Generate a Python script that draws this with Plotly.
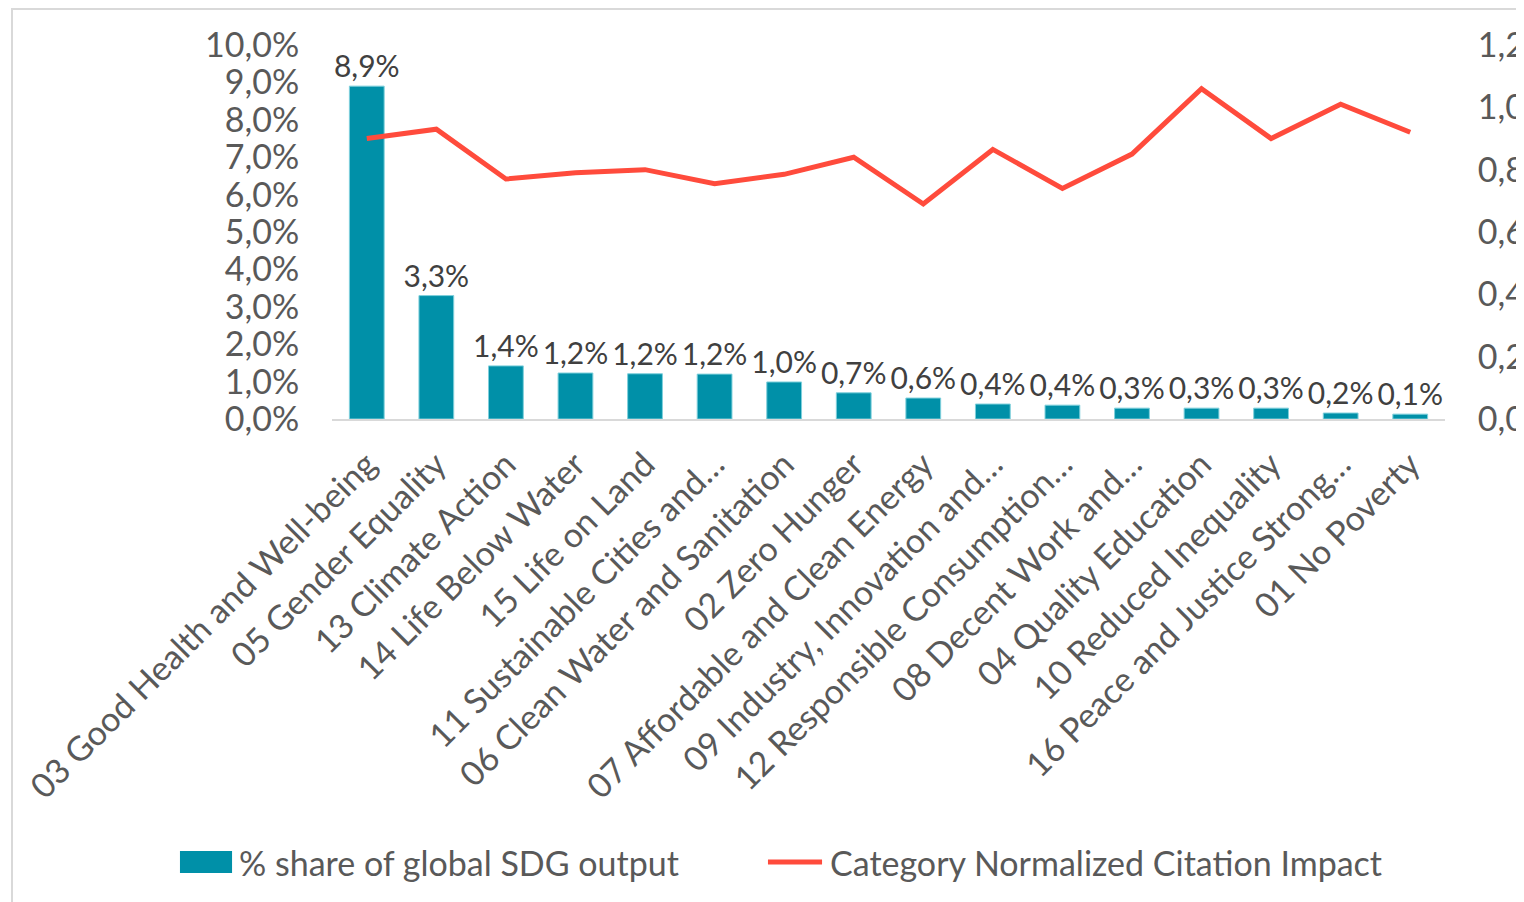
import plotly.graph_objects as go

categories = [
    "03 Good Health and Well-being",
    "05 Gender Equality",
    "13 Climate Action",
    "14 Life Below Water",
    "15 Life on Land",
    "11 Sustainable Cities and…",
    "06 Clean Water and Sanitation",
    "02 Zero Hunger",
    "07 Affordable and Clean Energy",
    "09 Industry, Innovation and…",
    "12 Responsible Consumption…",
    "08 Decent Work and…",
    "04 Quality Education",
    "10 Reduced Inequality",
    "16 Peace and Justice Strong…",
    "01 No Poverty",
]
share = [0.089, 0.033, 0.0142, 0.0123, 0.0121, 0.012, 0.0099, 0.0070, 0.0056,
         0.0040, 0.0037, 0.0029, 0.0029, 0.0029, 0.0016, 0.0013]
cnci = [0.90, 0.93, 0.77, 0.79, 0.80, 0.755, 0.785, 0.84, 0.69,
        0.865, 0.74, 0.85, 1.06, 0.90, 1.01, 0.92]

bar_name = "% share of global SDG output"
line_name = "Category Normalized Citation Impact"

BAR = "#0090A8"
LINE = "#FF4B3C"
TXT = "#595959"
FONT = "Lato"
FS = 34

fig = go.Figure()
fig.add_trace(go.Bar(
    x=categories, y=share, name=bar_name,
    marker=dict(color=BAR, line=dict(color="#7FD0DC", width=1)),
    texttemplate="%{y:.1%}", textposition="outside", constraintext="none",
    textfont=dict(size=30, color="#404040", family=FONT),
    cliponaxis=False,
))
fig.add_trace(go.Scatter(
    x=categories, y=cnci, name=line_name,
    mode="lines", yaxis="y2",
    line=dict(color=LINE, width=5),
))

# hand-drawn legend so the swatches have the reference's size
legend_shapes = [
    dict(type="rect", xref="paper", yref="paper",
         x0=-0.1366, x1=-0.0898, y0=-1.2139, y1=-1.155,
         fillcolor=BAR, line=dict(width=0)),
    dict(type="line", xref="paper", yref="paper",
         x0=0.3917, x1=0.4403, y0=-1.1845, y1=-1.1845,
         line=dict(color=LINE, width=5)),
]
legend_text = [
    dict(text=bar_name, xref="paper", yref="paper", x=-0.0854, y=-1.1845,
         xanchor="left", yanchor="middle", showarrow=False,
         font=dict(size=FS, color=TXT)),
    dict(text=line_name, xref="paper", yref="paper", x=0.4456, y=-1.1845,
         xanchor="left", yanchor="middle", showarrow=False,
         font=dict(size=FS, color=TXT)),
]

fig.update_layout(
    width=1516, height=894,
    margin=dict(l=324, r=79, t=37, b=483, autoexpand=False),
    paper_bgcolor="white", plot_bgcolor="white",
    separators=", ",
    font=dict(family=FONT, size=FS, color=TXT),
    bargap=0.5,
    showlegend=False,
    xaxis=dict(tickangle=-45, showline=True, linecolor="#D9D9D9", linewidth=2,
               showgrid=False, ticks="outside", ticklen=10, tickcolor="white",
               automargin=False, tickfont=dict(size=FS, color=TXT)),
    yaxis=dict(range=[0, 0.1], dtick=0.01, tickformat=".1%", showgrid=False,
               zeroline=False, showline=False, ticks="outside", ticklen=25,
               tickcolor="white", automargin=False,
               tickfont=dict(size=FS, color=TXT)),
    yaxis2=dict(range=[0, 1.2], dtick=0.2, tickformat=".1f", overlaying="y",
                side="right", showgrid=False, zeroline=False, showline=False,
                ticks="outside", ticklen=25, tickcolor="white", automargin=False,
                tickfont=dict(size=FS, color=TXT)),
    shapes=[dict(type="rect", xref="paper", yref="paper",
                 x0=-0.2875, x1=1.08, y0=-1.35, y1=1.096,
                 line=dict(color="#D9D9D9", width=2), layer="below")] + legend_shapes,
    annotations=legend_text,
)

fig.write_html("out.html")
